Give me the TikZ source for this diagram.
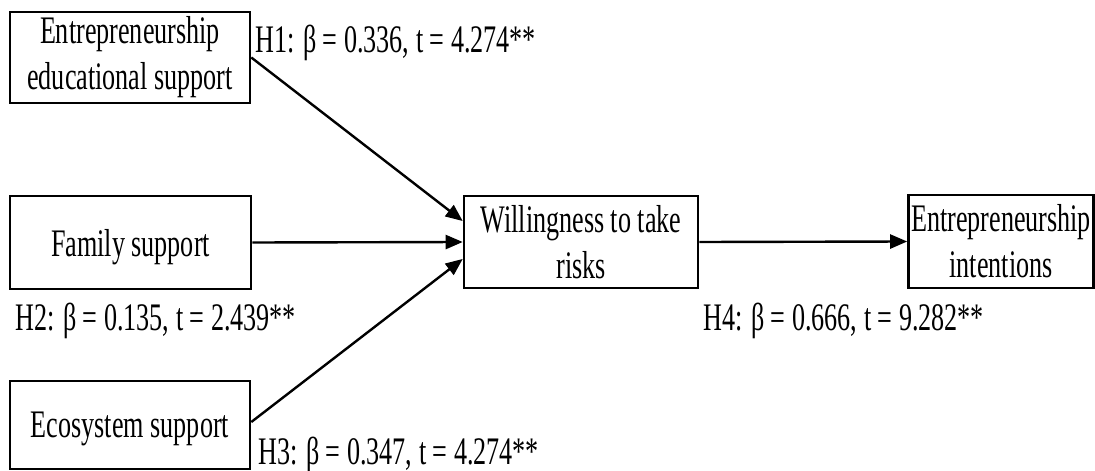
\documentclass[tikz,border=0pt]{standalone}
\usepackage{fontspec}
\setmainfont[FakeStretch=0.67]{Liberation Serif}
\usetikzlibrary{arrows.meta}
\begin{document}
\begin{tikzpicture}[x=1pt,y=-1pt,
  box/.style={draw=black,line width=2.6pt,fill=white,inner sep=0pt,align=center,
    font=\fontsize{39}{46}\selectfont},
  lbl/.style={inner sep=0pt,font=\fontsize{39}{46}\selectfont},
  conn/.style={line width=2.4pt,-{Triangle[length=17pt,width=14pt]}}]
\useasboundingbox[fill=white] (0,0) rectangle (1095,471);
\node[box,minimum width=240pt,minimum height=91pt] (ees) at (130,57.5) {Entrepreneurship\\educational support};
\node[box,minimum width=241pt,minimum height=93pt,text depth=0pt] (fam) at (130.5,242.5) {Family support};
\node[box,minimum width=240pt,minimum height=88pt,text depth=0pt] (eco) at (130,425) {Ecosystem support};
\node[box,minimum width=234pt,minimum height=92pt] (wil) at (581,242) {Willingness to take\\risks};
\node[box,minimum width=185pt,minimum height=93pt] (ent) at (1001,241.5) {Entrepreneurship\\intentions};
\coordinate (t1) at ([yshift=21pt]wil.west);
\coordinate (t3) at ([yshift=-17pt]wil.west);
\draw[conn] (ees.east) -- (t1);
\draw[conn] (fam.east) -- (wil.west);
\draw[conn] ([yshift=3pt]eco.east) -- (t3);
\draw[conn] (wil.east) -- (ent.west);
\node[lbl,anchor=base west] (h1) at (255,52) {H1: β = 0.336, t = 4.274**};
\node[lbl,anchor=base west] (h2) at (15,330) {H2: β = 0.135, t = 2.439**};
\node[lbl,anchor=base west] (h3) at (258,464) {H3: β = 0.347, t = 4.274**};
\node[lbl,anchor=base west] (h4) at (703,330) {H4: β = 0.666, t = 9.282**};
\end{tikzpicture}
\end{document}
